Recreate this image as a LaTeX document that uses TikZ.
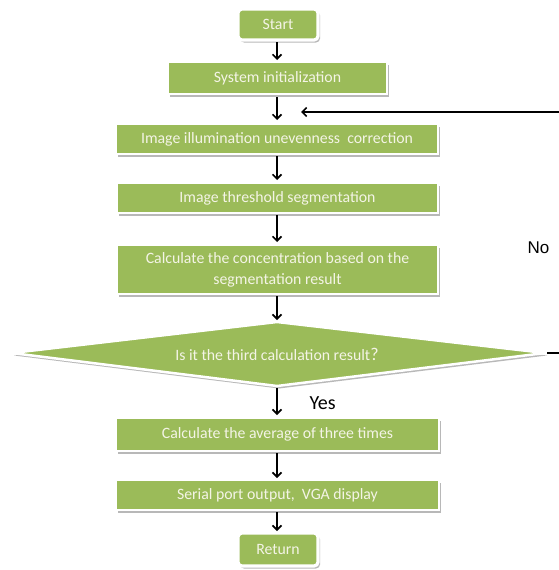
\documentclass[tikz,border=0pt]{standalone}
\usepackage{fontspec}
\setmainfont{Carlito}
\newfontfamily\arialf{Liberation Sans}
\usetikzlibrary{shadows,arrows.meta}
\definecolor{olive}{HTML}{9BBB59}
\definecolor{cream}{RGB}{244,244,230}
\tikzset{
  shad/.style={drop shadow={shadow xshift=2pt,shadow yshift=-2.5pt,fill=black!55,opacity=0.5}},
  procbox/.style={shad,fill=olive,draw=white,line width=2pt,text=cream,
    font=\fontsize{15.8}{21}\selectfont,inner sep=0pt,align=center},
  termbox/.style={procbox,rounded corners=4pt,line width=3.2pt},
  flow/.style={draw=black,line width=1.6pt,-{Straight Barb[length=4.5pt,width=9pt,line width=1.6pt]}},
}
\begin{document}
\begin{tikzpicture}[x=1pt,y=-1pt]
\useasboundingbox (0,0) rectangle (559,570);
\clip (0,0) rectangle (559,570);
\fill[white] (0,0) rectangle (559,570);

\node[termbox,minimum width=80pt,minimum height=31pt] (start) at (278,24.5) {Start};
\node[procbox,minimum width=219pt,minimum height=32pt] (init) at (277.5,78) {System initialization};
\node[procbox,minimum width=322pt,minimum height=30pt] (illum) at (277,139) {Image illumination unevenness\ \ correction};
\node[procbox,minimum width=321pt,minimum height=30pt] (thresh) at (277.5,198) {Image threshold segmentation};
\node[procbox,minimum width=321pt,minimum height=49pt] (conc) at (277.5,269.5) {Calculate the concentration\ based on the\\segmentation result};

\coordinate (dW) at (12,353);
\coordinate (dE) at (545,353);
\coordinate (dN) at (277,322);
\coordinate (dS) at (277,386);
\path[shad,fill=olive,draw=white,line width=2.5pt,line join=miter,miter limit=30] (dW) -- (dN) -- (dE) -- (dS) -- cycle;
\node[text=cream,font=\fontsize{15.8}{19}\selectfont] (dtext) at (277,354) {Is it the third calculation result\raisebox{0pt}{\fontsize{18}{19}\selectfont ?}};

\node[procbox,minimum width=323pt,minimum height=33pt] (avg) at (277.5,434.5) {Calculate the average of three times};
\node[procbox,minimum width=323pt,minimum height=30pt] (serial) at (277.5,495) {Serial port output,\ \ VGA display};
\node[termbox,minimum width=80pt,minimum height=33pt] (ret) at (278,549.5) {Return};

\coordinate (a1s) at (277,42);   \coordinate (a1e) at (277,60);
\coordinate (a2s) at (277,97);   \coordinate (a2e) at (277,120);
\coordinate (a3s) at (277,156);  \coordinate (a3e) at (277,180);
\coordinate (a4s) at (277,215);  \coordinate (a4e) at (277,242);
\coordinate (a5s) at (277,296);  \coordinate (a5e) at (277,320);
\coordinate (a6s) at (277,388);  \coordinate (a6e) at (277,415);
\coordinate (a7s) at (277,453);  \coordinate (a7e) at (277,478);
\coordinate (a8s) at (277,512);  \coordinate (a8e) at (277,531);
\draw[flow] (a1s) -- (a1e);
\draw[flow] (a2s) -- (a2e);
\draw[flow] (a3s) -- (a3e);
\draw[flow] (a4s) -- (a4e);
\draw[flow] (a5s) -- (a5e);
\draw[flow] (a6s) -- (a6e);
\draw[flow] (a7s) -- (a7e);
\draw[flow] (a8s) -- (a8e);

\coordinate (loopA) at (575,353);
\coordinate (loopB) at (575,112);
\coordinate (loopTip) at (301,112);
\draw[flow,line width=1.8pt] (dE) ++(2,0) -- (loopA) -- (loopB) -- (loopTip);

\node[font=\arialf\fontsize{17}{19}\selectfont,anchor=west] (no) at (524,248) {No};
\node[font=\fontsize{20}{22}\selectfont,anchor=west] (yes) at (306,403) {Yes};
\end{tikzpicture}
\end{document}
